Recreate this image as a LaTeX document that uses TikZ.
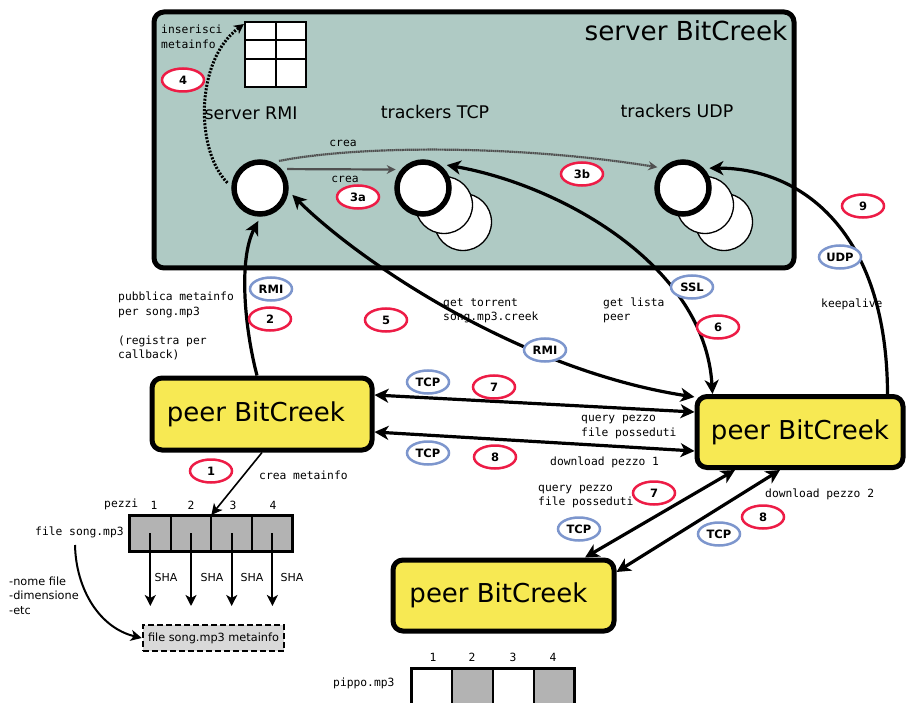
\documentclass[tikz,border=0pt]{standalone}
\usepackage{fontspec}
\setmainfont{DejaVu Sans}
\setmonofont{DejaVu Sans Mono}
\usetikzlibrary{shapes.geometric,arrows.meta,calc}
\definecolor{srvfill}{RGB}{175,202,196}
\definecolor{peeryellow}{RGB}{247,233,83}
\definecolor{numred}{RGB}{237,28,70}
\definecolor{protoblue}{RGB}{125,150,205}
\definecolor{cellgray}{RGB}{179,179,179}
\definecolor{metagray}{RGB}{217,217,217}
\definecolor{creagray}{RGB}{80,80,80}
\newcommand\mymono{\ttfamily\fontsize{11.3}{14.5}\selectfont}
\begin{document}
\begin{tikzpicture}[x=1pt,y=-1pt,
  srvbox/.style={draw, line width=5pt, rounded corners=10pt, fill=srvfill, minimum width=640pt, minimum height=256pt, inner sep=0},
  srvc/.style={circle, draw, fill=white, line width=5.5pt, minimum size=52pt, inner sep=0, outer sep=7pt},
  bgc/.style={circle, draw, fill=white, line width=1.3pt, minimum size=57pt, inner sep=0},
  peer/.style={draw, line width=5pt, rounded corners=10pt, fill=peeryellow, inner sep=0, font=\fontsize{26}{30}\selectfont},
  numlbl/.style={ellipse, draw=numred, fill=white, line width=2.5pt, minimum width=42pt, minimum height=23pt, inner sep=0, font=\bfseries\fontsize{11.5}{13}\selectfont},
  protolbl/.style={numlbl, draw=protoblue},
  mono/.style={inner sep=0, font=\mymono, align=left},
  sanslbl/.style={inner sep=0, font=\fontsize{11.3}{14.5}\selectfont, align=left},
  shalbl/.style={inner sep=0, font=\fontsize{11}{13}\selectfont},
  title/.style={inner sep=0, font=\fontsize{17.4}{20}\selectfont},
  conn/.style={line width=3.2pt, -{Stealth[length=14pt,width=14pt,inset=4pt]}},
  dconn/.style={line width=3.2pt, {Stealth[length=14pt,width=14pt,inset=4pt]}-{Stealth[length=14pt,width=14pt,inset=4pt]}},
  thinarr/.style={line width=2pt, -{Stealth[length=11pt,width=11pt,inset=3pt]}},
  dotarr/.style={line width=3pt, dash pattern=on 2pt off 1.5pt, -{Stealth[length=10pt,width=10pt,inset=3pt]}},
  creaarr/.style={line width=2.2pt, draw=creagray, -{Stealth[length=9pt,width=9pt,inset=3pt]}},
  cell/.style={draw, line width=2pt, fill=cellgray, minimum width=40.7pt, minimum height=36pt, inner sep=0, outer sep=0},
  wcell/.style={cell, fill=white, minimum height=40pt},
  gcell/.style={cell, minimum height=40pt},
  metabox/.style={draw, line width=2.5pt, dash pattern=on 6pt off 3pt, fill=metagray, minimum width=141pt, minimum height=26pt, inner sep=0, font=\fontsize{11.3}{13}\selectfont}
]
\useasboundingbox (0,0) rectangle (907,703);

% server
\node[srvbox] (server) at (474,140) {};
\node[inner sep=0, font=\fontsize{26.2}{30}\selectfont] (srvtitle) at (686,31) {server BitCreek};

% table
\draw[line width=2.5pt, fill=white] (245,22) rectangle (306,87);
\draw[line width=2.5pt] (276,22) -- (276,87) (245,40) -- (306,40) (245,59) -- (306,59);
\coordinate (tbl) at (244,24);
\node[mono, anchor=west] (ins) at (161,37) {inserisci\\metainfo};

\node[title] (trmi) at (251,113) {server RMI};
\node[title] (ttcp) at (435,112) {trackers TCP};
\node[title] (tudp) at (677,111) {trackers UDP};

% circles
\node[srvc] (rmi) at (260,188) {};
\node[bgc] (tcpc) at (463,222) {};
\node[bgc] (tcpb) at (444,205) {};
\node[srvc] (tcp) at (423,188) {};
\node[bgc] (udpc) at (724,222) {};
\node[bgc] (udpb) at (705,205) {};
\node[srvc] (udp) at (683,188) {};

% crea arrows
\draw[creaarr] (rmi.35) -- (tcp.146);
\draw[creaarr, dash pattern=on 1.6pt off 0.5pt] (rmi.55) .. controls (360,145) and (520,145) .. (udp.141);
\node[mono] (crea1) at (343,143) {crea};
\node[mono] (crea2) at (345,179) {crea};

% dotted arrow 4
\draw[dotarr] (rmi.171) .. controls (195,150) and (195,60) .. (tbl);

% peers
\node[peer, minimum width=220pt, minimum height=72pt] (p1) at (262,414) {peer BitCreek\hspace*{12pt}};
\node[peer, minimum width=206pt, minimum height=71pt] (p2) at (800,432) {peer BitCreek};
\node[peer, minimum width=221pt, minimum height=71pt] (p3) at (503.5,595.5) {peer BitCreek\hspace*{10pt}};

% connectors to server
\draw[conn] ($(p1.north)+(-5,0)$) .. controls (245,330) and (238,260) .. (rmi.-93);
\draw[dconn] (rmi.-12) .. controls (360,262) and (520,370) .. ($(p2.west)+(0,-35)$);
\draw[dconn] (tcp.44) .. controls (560,185) and (705,265) .. ($(p2.north west)+(18,0)$);
\draw[conn] ($(p2.north east)+(-18,0)$) .. controls (887,230) and (800,168) .. (udp.37);

% peer to peer
\draw[dconn] ($(p1.east)+(0,-19)$) -- ($(p2.west)+(0,-20)$);
\draw[dconn] ($(p1.east)+(0,18)$) -- ($(p2.west)+(0,19)$);
\draw[dconn] ($(p3.north)+(81.5,0)$) -- ($(p2.south)+(-65,0)$);
\draw[dconn] ($(p3.east)+(0,-23.5)$) -- ($(p2.south)+(-20,0)$);

% texts
\node[mono, anchor=west] (pub) at (118,326) {pubblica metainfo\\per song.mp3\\[14.5pt](registra per\\callback)};
\node[mono, anchor=west] (gett) at (443,310.5) {get torrent\\song.mp3.creek};
\node[mono, anchor=west] (getl) at (603,310.5) {get lista\\peer};
\node[mono, anchor=west] (keep) at (821,304) {keepalive};
\node[mono, anchor=west] (qp1) at (581,427) {query pezzo\\file posseduti};
\node[mono, anchor=west] (dl1) at (550,462) {download pezzo 1};
\node[mono, anchor=west] (qp2) at (538,496.5) {query pezzo\\file posseduti};
\node[mono, anchor=west] (dl2) at (765,494) {download pezzo 2};
\node[mono, anchor=west] (cm) at (259,475) {crea metainfo};

% song pieces
\foreach \i/\x in {1/150.3,2/191,3/231.7,4/272.4}{
  \node[cell] (s\i) at (\x,533) {};
  \coordinate (h\i) at (\x,606);
  \draw[thinarr] (s\i.center) -- (h\i);
}
\draw[line width=3pt] (s1.north west) rectangle (s4.south east);
\draw[thinarr, line width=1.6pt] (p1.south) -- (s3.north west);
\node[mono, anchor=west] (pezzi) at (104,504) {pezzi};
\foreach \i/\x in {1/154,2/191,3/233,4/273}{
  \node[mono] (n\i) at (\x,505.5) {\i};
}
\node[mono, anchor=west] (fsong) at (35,532) {file song.mp3};
\foreach \i/\x in {1/166,2/212,3/252,4/292}{
  \node[shalbl] (sha\i) at (\x,577) {SHA};
}
\node[sanslbl, anchor=west] (nome) at (9,595.5) {-nome file\\-dimensione\\-etc};
\node[metabox] (meta) at (213.5,638) {file song.mp3 metainfo};
\draw[thinarr] (75,545) .. controls (76,590) and (100,628) .. (meta.west);

% pippo pieces
\node[wcell] (pp1) at (432,688) {};
\node[gcell] (pp2) at (472.7,688) {};
\node[wcell] (pp3) at (513.4,688) {};
\node[gcell] (pp4) at (554.1,688) {};
\draw[line width=3pt] (pp1.north west) rectangle (pp4.south east);
\node[mono, anchor=west] (pippo) at (333,683) {pippo.mp3};
\foreach \i/\x in {1/433,2/472,3/513,4/553}{
  \node[mono] (m\i) at (\x,657) {\i};
}

% labels
\node[numlbl] (l4) at (183,80) {4};
\node[numlbl] (l3a) at (358,197) {3a};
\node[numlbl] (l3b) at (582,174) {3b};
\node[numlbl] (l9) at (863,206) {9};
\node[protolbl] (udpl) at (840,257) {UDP};
\node[protolbl] (ssl) at (692,287) {SSL};
\node[protolbl] (rmil) at (271,289) {RMI};
\node[numlbl] (l2) at (270,319) {2};
\node[numlbl] (l5) at (386,320) {5};
\node[protolbl] (rmim) at (545,350) {RMI};
\node[numlbl] (l6) at (718,327) {6};
\node[protolbl] (tcp7) at (428,382) {TCP};
\node[numlbl] (l7) at (494,387) {7};
\node[protolbl] (tcp8) at (428,453) {TCP};
\node[numlbl] (l8) at (495,457) {8};
\node[numlbl] (l1) at (211,471) {1};
\node[numlbl] (l7b) at (654,493) {7};
\node[protolbl] (tcp7b) at (579,529) {TCP};
\node[numlbl] (l8b) at (763,517) {8};
\node[protolbl] (tcp8b) at (719,534) {TCP};
\end{tikzpicture}
\end{document}
